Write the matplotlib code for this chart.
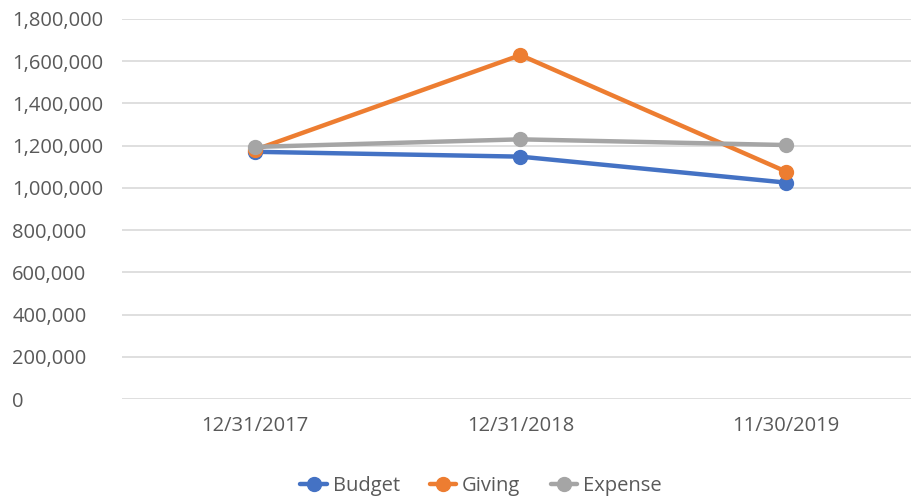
import matplotlib.pyplot as plt
from matplotlib.ticker import FuncFormatter

# values
dates = ['12/31/2017', '12/31/2018', '11/30/2019']
budget = [1171000, 1148000, 1025000]
giving = [1180000, 1629000, 1077000]
expense = [1194000, 1230000, 1203000]

plt.rcParams['font.family'] = ['Open Sans', 'DejaVu Sans']

fig = plt.figure(figsize=(9.11, 4.98), dpi=100)
ax = fig.add_axes([122 / 911, 99 / 498, 789 / 911, 380 / 498])

x = range(len(dates))
series = [('Budget', budget, '#4472C4'),
          ('Giving', giving, '#ED7D31'),
          ('Expense', expense, '#A5A5A5')]
for name, vals, col in series:
    ax.plot(x, vals, color=col, lw=3.2, marker='o', markersize=10,
            label=name, solid_capstyle='round')

ax.set_ylim(0, 1800000)
ax.set_xlim(-0.5, 2.47)
ax.set_yticks(range(0, 1800001, 200000))
ax.yaxis.set_major_formatter(FuncFormatter(lambda v, p: f'{int(v):,}'))
ax.set_xticks(list(x))
ax.set_xticklabels(dates)
ax.grid(axis='y', color='#D9D9D9', lw=1.2)
ax.set_axisbelow(True)
for s in ax.spines.values():
    s.set_visible(False)
ax.tick_params(length=0, labelsize=14.5, colors='#595959')
for lab in ax.get_yticklabels():
    lab.set_horizontalalignment('left')
ax.tick_params(axis='y', pad=79)
ax.tick_params(axis='x', pad=12)

ax.legend(loc='center', bbox_to_anchor=(0.5 - 0.045, -0.23), ncol=3,
          frameon=False, fontsize=14.5, labelcolor='#595959',
          handlelength=1.3, columnspacing=1.5, handletextpad=0.3)

fig.savefig('out.png')
